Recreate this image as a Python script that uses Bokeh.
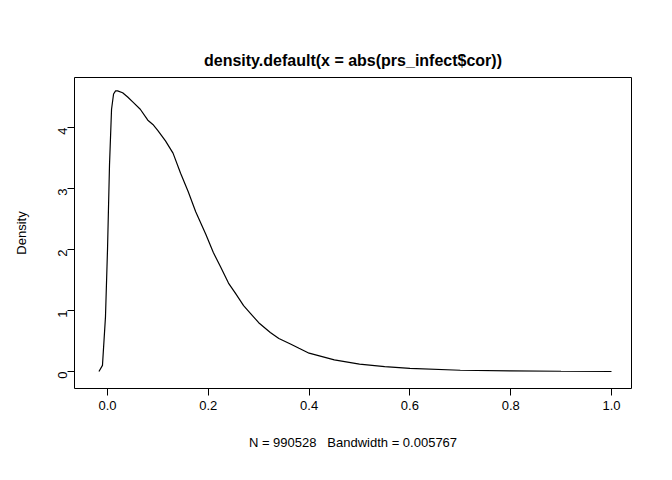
import math
from bokeh.plotting import figure
from bokeh.embed import file_html
from bokeh.resources import INLINE
from bokeh.models import FixedTicker

xs = [-0.017, -0.01, -0.004, 0.0, 0.004, 0.008, 0.012, 0.016, 0.02, 0.03, 0.04, 0.05, 0.065, 0.08, 0.09, 0.1, 0.115, 0.13, 0.145, 0.16, 0.175, 0.195, 0.21, 0.224, 0.24, 0.254, 0.27, 0.284, 0.3, 0.323, 0.34, 0.363, 0.38, 0.40, 0.45, 0.5, 0.55, 0.6, 0.7, 0.8, 0.9, 1.0]
dens = [0.0, 0.1, 0.9, 2.0, 3.4, 4.3, 4.55, 4.6, 4.6, 4.57, 4.5, 4.42, 4.3, 4.12, 4.05, 3.95, 3.78, 3.58, 3.25, 2.95, 2.62, 2.25, 1.95, 1.72, 1.45, 1.28, 1.08, 0.95, 0.8, 0.64, 0.54, 0.45, 0.38, 0.3, 0.19, 0.12, 0.08, 0.05, 0.02, 0.01, 0.004, 0.0]

title = "density.default(x = abs(prs_infect$cor))"
xlabel = "N = 990528\u00a0\u00a0\u00a0Bandwidth = 0.005767"
ylabel = "Density"
xticks = [0.0, 0.2, 0.4, 0.6, 0.8, 1.0]
yticks = [0, 1, 2, 3, 4]

p = figure(width=656, height=464, output_backend="svg", toolbar_location=None,
           x_range=(-0.0655, 1.0397), y_range=(-0.279, 4.82),
           min_border_left=74, min_border_right=25, min_border_top=77, min_border_bottom=76)
p.title.text = title
p.title.align = "center"
p.title.text_font = "Liberation Sans"
p.title.text_font_size = "16px"
p.title.text_font_style = "bold"
p.title.text_color = "black"
p.title.standoff = 18
p.grid.visible = False
p.outline_line_color = "black"
p.outline_line_width = 1
p.background_fill_color = "white"
p.line(xs, dens, line_color="black", line_width=1.2)

for ax in (p.xaxis[0], p.yaxis[0]):
    ax.axis_line_color = None
    ax.major_tick_out = 7
    ax.major_tick_in = 0
    ax.minor_tick_line_color = None
    ax.major_label_text_font = "Liberation Sans"
    ax.major_label_text_font_size = "13px"
    ax.major_label_text_color = "black"
    ax.axis_label_text_font = "Liberation Sans"
    ax.axis_label_text_font_size = "13px"
    ax.axis_label_text_font_style = "normal"
    ax.axis_label_text_color = "black"
p.xaxis.ticker = FixedTicker(ticks=xticks)
p.yaxis.ticker = FixedTicker(ticks=yticks)
p.xaxis.major_label_overrides = {v: f"{v:.1f}" for v in xticks}
p.yaxis.major_label_orientation = math.pi / 2
p.xaxis.axis_label = xlabel
p.yaxis.axis_label = ylabel
p.xaxis.axis_label_standoff = 22
p.yaxis.axis_label_standoff = 22

open("out.html", "w").write(file_html(p, INLINE))
